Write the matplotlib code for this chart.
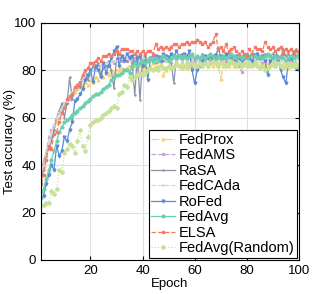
import numpy as np
import matplotlib
matplotlib.use('Agg')
import matplotlib.pyplot as plt

plt.rcParams['font.family'] = ['Liberation Sans', 'DejaVu Sans']

epochs = np.arange(1, 101)

fedprox = [34, 40, 44, 48, 52, 55, 58, 60, 63, 65,
           66, 68, 70, 71, 72, 73, 74, 75, 74, 76,
           75, 77, 76, 78, 77, 79, 78, 80, 79, 80,
           80, 81, 80, 81, 82, 81, 82, 81, 82, 80,
           82, 81, 82, 83, 81, 82, 83, 78, 80, 82,
           81, 82, 83, 82, 83, 82, 81, 83, 82, 83,
           82, 83, 82, 83, 82, 83, 82, 83, 82, 76.5,
           82, 83, 82, 83, 82, 83, 82, 83, 84, 83,
           82, 83, 84, 83, 82, 83, 82, 83, 84, 83,
           82, 83, 82, 83, 82, 81, 83, 82, 83, 82]

fedams = [37, 42, 45, 52, 55, 57, 60, 62, 64, 66,
          66, 68, 70, 72, 73, 74, 76, 77, 78, 79,
          80, 81, 82, 82, 83, 82, 83, 84, 83, 84,
          85, 84, 85, 84, 85, 84, 85, 84, 85, 84,
          85, 84, 85, 84, 85, 86, 84, 85, 84, 85,
          84, 85, 84, 85, 84, 85, 84, 85, 86, 84,
          85, 84, 85, 84, 85, 84, 85, 84, 85, 84,
          85, 84, 85, 84, 83, 84, 82, 79.5, 84, 85,
          84, 85, 84, 85, 84, 83, 84, 85, 84, 85,
          84, 85, 86, 85, 84, 85, 84, 85, 86, 85]

rasa = [33, 38, 45, 47, 50, 55, 60, 63, 66, 60,
        66, 77, 68, 72, 74, 73, 78, 80, 76, 79,
        82, 80, 83, 78, 81, 82, 84, 80, 72.5, 85,
        84, 86, 85, 84, 86, 83, 69.5, 86, 67.5, 85,
        86, 84, 85, 86, 83, 85, 86, 84, 85, 86,
        83, 74.5, 86, 85, 87, 86, 85, 86, 84, 85,
        86, 85, 87, 86, 85, 84, 86, 87, 85, 86,
        85, 86, 87, 85, 86, 84, 85, 86, 85, 87,
        86, 85, 87, 86, 85, 86, 87, 85, 86, 87,
        88, 86, 85, 89, 86, 87, 85, 88, 89, 86]

fedcada = [35, 40, 46, 50, 54, 57, 60, 62, 64, 66,
           67, 69, 71, 72, 74, 75, 76, 77, 78, 79,
           80, 80, 81, 82, 82, 83, 83, 84, 84, 84,
           84, 85, 84, 85, 84, 85, 84, 85, 84, 85,
           84, 85, 84, 85, 84, 85, 84, 85, 84, 85,
           84, 85, 84, 85, 84, 85, 84, 85, 84, 85,
           84, 85, 84, 85, 84, 85, 84, 85, 84, 85,
           84, 85, 84, 85, 84, 85, 84, 85, 84, 85,
           84, 85, 84, 85, 84, 85, 84, 85, 84, 85,
           84, 85, 84, 85, 84, 85, 84, 85, 84, 85]

rofed = [26, 27, 32, 36, 40, 38, 48, 44, 46, 52,
         50, 55, 58, 67, 68, 70, 72, 76, 78, 80,
         75, 82, 80, 77, 83, 79, 82, 85, 88, 90,
         82, 86, 84, 87, 85, 86, 83, 85, 86, 82,
         84, 76, 85, 84, 86, 85, 84, 87, 86, 85,
         87, 86, 88, 86, 85, 87, 86, 88, 80, 74.5,
         80, 82, 84, 86, 85, 86, 84, 86, 89, 86,
         85, 87, 86, 85, 84, 86, 85, 84, 85, 86,
         85, 84, 86, 87, 85, 86, 84, 78, 84, 85,
         86, 84, 80, 77, 74.5, 84, 85, 83, 81, 80]

fedavg = [26, 30, 34, 38, 42, 46, 50, 54, 56, 58,
          59, 60, 61, 62, 63, 64, 65, 66, 67, 68,
          69, 70, 70, 71, 72, 73, 74, 76, 77, 78,
          78, 79, 80, 80, 79, 82, 83, 82, 83, 84,
          83, 84, 85, 84, 85, 84, 85, 86, 85, 84,
          85, 86, 85, 86, 85, 86, 85, 86, 87, 85,
          86, 85, 86, 85, 86, 87, 86, 85, 86, 85,
          86, 85, 86, 87, 86, 85, 86, 85, 86, 85,
          86, 87, 86, 85, 86, 85, 86, 87, 86, 85,
          86, 85, 86, 85, 84, 85, 86, 85, 86, 85]

elsa = [32, 36, 42, 48, 47, 53, 54, 58, 62, 64,
        68, 69, 70, 73, 74, 75, 78, 80, 81, 83,
        83, 84, 85, 84, 86, 86, 87, 86, 87, 88,
        87, 89, 89, 89, 88, 88, 87, 88, 87, 88,
        87, 88, 88, 87, 91, 89, 90, 89, 90, 89,
        90, 91, 91, 90, 91, 91, 92, 91, 92, 92,
        93, 92, 91, 92, 90, 91, 92, 95.5, 89, 90,
        88, 91, 88, 89, 90, 88, 87, 88, 87, 86,
        89, 87, 90, 89, 89, 88, 92, 90, 89, 90,
        88, 89, 90, 87, 89, 88, 89, 87, 88, 88]

fedavg_random = [23, 23, 24, 24, 29, 28, 30, 38, 37, 45,
                 47, 49, 48, 45, 50, 55, 48, 46, 52, 57,
                 58, 59, 59, 60, 61, 62, 63, 64, 65, 64,
                 70, 71, 74, 73, 77, 76, 77, 78, 79, 78,
                 79, 80, 81, 80, 81, 80, 82, 81, 81, 82,
                 81, 82, 83, 82, 81, 82, 83, 82, 83, 82,
                 82, 83, 82, 83, 82, 83, 84, 83, 82, 83,
                 83, 82, 83, 84, 83, 82, 83, 82, 83, 82,
                 83, 82, 83, 82, 81, 82, 80, 81, 82, 83,
                 82, 83, 82, 81, 82, 83, 82, 83, 82, 82.5]

series = [
    ('FedProx', fedprox, '#F8D374', '-.', '^'),
    ('FedAMS', fedams, '#C7A3D9', '--', '*'),
    ('RaSA', rasa, '#8A93A9', '-', '+'),
    ('FedCAda', fedcada, '#D6DDCC', '--', '.'),
    ('RoFed', rofed, '#5A8BD8', '-', 'v'),
    ('FedAvg', fedavg, '#6BCFAE', '-', 'o'),
    ('ELSA', elsa, '#F47966', '--', 's'),
    ('FedAvg(Random)', fedavg_random, '#C7E09A', ':', 'D'),
]

fig = plt.figure(figsize=(3.2, 2.94), dpi=100)
ax = fig.add_axes([0.128, 0.116, 0.806, 0.806])

for name, vals, col, ls, mk in series:
    ax.plot(epochs, vals, color=col, linestyle=ls, marker=mk, markersize=2,
            linewidth=0.9, label=name)

ax.set_xlim(1, 100)
ax.set_ylim(0, 100)
ax.set_xticks([20, 40, 60, 80, 100])
ax.set_yticks([0, 20, 40, 60, 80, 100])
ax.grid(True, color='#E0E0E0', linewidth=0.8)
ax.set_axisbelow(True)
ax.tick_params(direction='in', top=True, right=True, labelsize=9.5, length=3)
for s in ax.spines.values():
    s.set_linewidth(0.8)
ax.set_xlabel('Epoch', fontsize=9.5, labelpad=1)
ax.set_ylabel('Test accuracy (%)', fontsize=9.5)
ax.yaxis.set_label_coords(-0.098, 0.5)

leg = ax.legend(loc='lower right', fontsize=10.5, frameon=True, fancybox=False,
                edgecolor='black', framealpha=1, handlelength=1.6,
                handletextpad=0.25, labelspacing=0.1, borderpad=0.2,
                borderaxespad=0.12)
leg.get_frame().set_linewidth(0.8)

plt.savefig('out.png', dpi=100)
